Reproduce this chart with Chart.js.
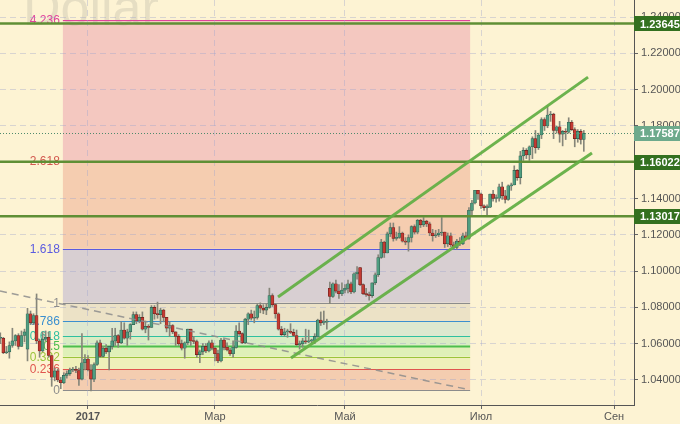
<!DOCTYPE html>
<html>
<head>
<meta charset="utf-8">
<script src="https://cdn.jsdelivr.net/npm/chart.js@4.4.0/dist/chart.umd.min.js"></script>
<style>
  html, body { margin: 0; padding: 0; background: #fdf3d3; }
  canvas { display: block; }
</style>
</head>
<body>
<canvas id="chart" width="680" height="424"></canvas>
<script>
// daily candles, first one sits at index -29 (index 0 = first trading day of 2017)
var FIRST_INDEX = -29;

var open = [
  1.0630,1.0630,1.0550,1.0555,1.0590,1.0615,1.0645,1.0585,1.0645,1.0570,
  1.0765,1.0715,1.0755,1.0615,1.0560,1.0625,1.0635,1.0535,1.0415,1.0450,
  1.0400,1.0385,1.0425,1.0435,1.0455,1.0458,1.0452,1.0405,1.0495,1.0515,
  1.0455,1.0405,1.0485,1.0605,1.0530,1.0575,1.0555,1.0585,1.0615,1.0645,
  1.0605,1.0675,1.0630,1.0665,1.0705,1.0760,1.0725,1.0745,1.0680,1.0695,
  1.0690,1.0800,1.0765,1.0760,1.0785,1.0745,1.0685,1.0700,1.0665,1.0640,
  1.0600,1.0575,1.0605,1.0680,1.0615,1.0612,1.0540,1.0555,1.0585,1.0560,
  1.0605,1.0575,1.0545,1.0505,1.0620,1.0580,1.0565,1.0545,1.0580,1.0670,
  1.0655,1.0605,1.0735,1.0765,1.0740,1.0745,1.0810,1.0795,1.0785,1.0800,
  1.0865,1.0815,1.0765,1.0680,1.0650,1.0665,1.0668,1.0662,1.0645,1.0595,
  1.0600,1.0615,1.0610,1.0615,1.0618,1.0640,1.0730,1.0715,1.0718,1.0905,
  1.0860,1.0930,1.0890,1.0875,1.0895,1.0905,1.0930,1.0885,1.0985,1.1020,
  1.0925,1.0875,1.0870,1.0865,1.0935,1.0980,1.1075,1.1160,1.1100,1.1205,
  1.1240,1.1180,1.1185,1.1210,1.1165,1.1160,1.1185,1.1245,1.1215,1.1280,
  1.1255,1.1275,1.1260,1.1210,1.1195,1.1200,1.1210,1.1215,1.1150,1.1195,
  1.1145,1.1130,1.1165,1.1150,1.1195,1.1180,1.1335,1.1375,1.1445,1.1425,
  1.1360,1.1350,1.1352,1.1425,1.1400,1.1402,1.1465,1.1415,1.1395,1.1470,
  1.1475,1.1555,1.1515,1.1635,1.1665,1.1640,1.1685,1.1730,1.1680,1.1750,
  1.1835,1.1800,1.1860,1.1865,1.1775,1.1795,1.1755,1.1770,1.1765,1.1820,
  1.1780,1.1730,1.1770,1.1725
];
var high = [
  1.0660,1.0635,1.0585,1.0610,1.0685,1.0650,1.0655,1.0670,1.0680,1.0795,
  1.0780,1.0765,1.0874,1.0625,1.0665,1.0670,1.0665,1.0535,1.0465,1.0460,
  1.0415,1.0440,1.0450,1.0465,1.0470,1.0475,1.0465,1.0655,1.0540,1.0535,
  1.0485,1.0495,1.0615,1.0620,1.0585,1.0595,1.0580,1.0685,1.0685,1.0650,
  1.0720,1.0715,1.0680,1.0710,1.0775,1.0775,1.0760,1.0775,1.0725,1.0705,
  1.0810,1.0810,1.0829,1.0795,1.0790,1.0745,1.0720,1.0705,1.0665,1.0650,
  1.0620,1.0610,1.0680,1.0680,1.0640,1.0620,1.0565,1.0600,1.0600,1.0615,
  1.0620,1.0580,1.0565,1.0630,1.0625,1.0605,1.0575,1.0615,1.0700,1.0715,
  1.0660,1.0740,1.0770,1.0785,1.0780,1.0820,1.0825,1.0815,1.0820,1.0906,
  1.0875,1.0820,1.0770,1.0695,1.0685,1.0680,1.0710,1.0680,1.0675,1.0615,
  1.0630,1.0680,1.0675,1.0625,1.0655,1.0735,1.0775,1.0780,1.0735,1.0940,
  1.0935,1.0950,1.0925,1.0935,1.0925,1.0950,1.0940,1.0990,1.1025,1.1020,
  1.0930,1.0905,1.0885,1.0935,1.0990,1.1090,1.1175,1.1165,1.1215,1.1265,
  1.1265,1.1215,1.1245,1.1215,1.1185,1.1200,1.1250,1.1255,1.1285,1.1285,
  1.1295,1.1280,1.1270,1.1230,1.1225,1.1230,1.1295,1.1215,1.1210,1.1210,
  1.1160,1.1175,1.1185,1.1210,1.1215,1.1350,1.1390,1.1445,1.1445,1.1430,
  1.1365,1.1365,1.1425,1.1445,1.1420,1.1480,1.1490,1.1445,1.1475,1.1485,
  1.1580,1.1560,1.1660,1.1680,1.1675,1.1690,1.1740,1.1775,1.1760,1.1845,
  1.1845,1.1910,1.1880,1.1870,1.1800,1.1825,1.1775,1.1785,1.1845,1.1830,
  1.1790,1.1780,1.1780,1.1775
];
var low = [
  1.0600,1.0545,1.0545,1.0520,1.0580,1.0590,1.0570,1.0585,1.0610,1.0505,
  1.0705,1.0705,1.0600,1.0525,1.0555,1.0615,1.0525,1.0365,1.0395,1.0390,
  1.0352,1.0380,1.0410,1.0425,1.0445,1.0440,1.0370,1.0400,1.0455,1.0450,
  1.0340,1.0390,1.0480,1.0525,1.0525,1.0545,1.0455,1.0570,1.0590,1.0580,
  1.0600,1.0625,1.0590,1.0625,1.0705,1.0710,1.0715,1.0675,1.0660,1.0620,
  1.0690,1.0735,1.0740,1.0710,1.0720,1.0665,1.0640,1.0655,1.0590,1.0590,
  1.0565,1.0520,1.0595,1.0590,1.0600,1.0525,1.0495,1.0540,1.0550,1.0555,
  1.0565,1.0505,1.0495,1.0500,1.0565,1.0560,1.0535,1.0525,1.0575,1.0645,
  1.0600,1.0600,1.0705,1.0730,1.0715,1.0735,1.0770,1.0765,1.0760,1.0795,
  1.0805,1.0740,1.0675,1.0645,1.0640,1.0635,1.0655,1.0640,1.0590,1.0570,
  1.0580,1.0600,1.0605,1.0605,1.0600,1.0635,1.0700,1.0705,1.0680,1.0820,
  1.0855,1.0880,1.0850,1.0865,1.0880,1.0880,1.0875,1.0880,1.0955,1.0920,
  1.0870,1.0860,1.0840,1.0855,1.0925,1.0970,1.1070,1.1075,1.1100,1.1190,
  1.1165,1.1170,1.1180,1.1160,1.1145,1.1110,1.1160,1.1205,1.1205,1.1240,
  1.1245,1.1245,1.1195,1.1165,1.1185,1.1190,1.1195,1.1130,1.1135,1.1135,
  1.1120,1.1120,1.1140,1.1145,1.1175,1.1175,1.1310,1.1370,1.1395,1.1345,
  1.1335,1.1310,1.1350,1.1385,1.1380,1.1385,1.1395,1.1375,1.1390,1.1445,
  1.1475,1.1500,1.1480,1.1610,1.1620,1.1610,1.1620,1.1650,1.1670,1.1730,
  1.1775,1.1790,1.1825,1.1730,1.1760,1.1710,1.1690,1.1725,1.1760,1.1775,
  1.1685,1.1710,1.1700,1.1660
];
var close = [
  1.0630,1.0550,1.0555,1.0590,1.0615,1.0645,1.0585,1.0645,1.0665,1.0765,
  1.0715,1.0755,1.0615,1.0560,1.0625,1.0635,1.0535,1.0415,1.0450,1.0400,
  1.0385,1.0425,1.0435,1.0455,1.0458,1.0452,1.0405,1.0495,1.0515,1.0455,
  1.0405,1.0485,1.0605,1.0530,1.0575,1.0555,1.0585,1.0615,1.0645,1.0605,
  1.0675,1.0630,1.0665,1.0705,1.0760,1.0725,1.0745,1.0680,1.0695,1.0690,
  1.0800,1.0765,1.0760,1.0785,1.0745,1.0685,1.0700,1.0665,1.0640,1.0600,
  1.0575,1.0605,1.0680,1.0615,1.0612,1.0540,1.0555,1.0585,1.0560,1.0605,
  1.0575,1.0545,1.0505,1.0620,1.0580,1.0565,1.0545,1.0580,1.0670,1.0655,
  1.0605,1.0735,1.0765,1.0740,1.0745,1.0810,1.0795,1.0785,1.0800,1.0865,
  1.0815,1.0765,1.0680,1.0650,1.0665,1.0668,1.0662,1.0645,1.0595,1.0600,
  1.0615,1.0610,1.0615,1.0618,1.0640,1.0730,1.0715,1.0718,1.0725,1.0860,
  1.0930,1.0890,1.0875,1.0895,1.0905,1.0930,1.0885,1.0985,1.0995,1.0925,
  1.0875,1.0870,1.0865,1.0935,1.0980,1.1075,1.1160,1.1100,1.1205,1.1240,
  1.1180,1.1185,1.1210,1.1165,1.1160,1.1185,1.1245,1.1215,1.1280,1.1255,
  1.1275,1.1260,1.1210,1.1195,1.1200,1.1210,1.1215,1.1150,1.1195,1.1145,
  1.1130,1.1165,1.1150,1.1195,1.1180,1.1335,1.1375,1.1445,1.1425,1.1360,
  1.1350,1.1352,1.1425,1.1400,1.1402,1.1465,1.1415,1.1395,1.1470,1.1475,
  1.1555,1.1515,1.1635,1.1665,1.1640,1.1685,1.1730,1.1680,1.1750,1.1835,
  1.1800,1.1860,1.1865,1.1775,1.1795,1.1755,1.1770,1.1765,1.1820,1.1780,
  1.1730,1.1770,1.1725,1.1759
];

// axis ticks
var monthTicks = [0, 42, 85, 130, 174];
var monthNames = ["2017", "Мар", "Май", "Июл", "Сен"];
var priceTicks = [1.04, 1.06, 1.08, 1.10, 1.12, 1.14, 1.16, 1.18, 1.20, 1.22, 1.24];

// fibonacci tool: drawn from the Dec/Jan low to the Feb high
var fibLow = 1.0345, fibHigh = 1.0826;
var fibFrom = -8.3, fibTo = 126.4;
var fibRatios = [0, 0.236, 0.382, 0.5, 0.618, 0.786, 1, 1.618, 2.618, 4.236];
var fibNames = ["0", "0.236", "0.382", "0.5", "0.618", "0.786", "1", "1.618", "2.618", "4.236"];

// horizontal levels and last price
var levels = [1.23645, 1.16022, 1.13017];
var lastPrice = 1.17587;

// hand drawn lines [index, price]
var channelTop = [[62.85, 1.0857], [165.4, 1.2069]];
var channelBottom = [[67.15, 1.0521], [166.7, 1.1651]];
var oldTrend = [[-29.1, 1.0890], [125, 1.0350]];

var fibLineColors = ["#8c8c8c", "#e0554e", "#9bc43b", "#4cbf4c", "#2ec0a0", "#3b8fcf", "#8c8c8c", "#5b5be0", "#d2584e", "#e0449c"];
var fibZoneColors = ["#f4cdb0", "#eff0ba", "#dff0b8", "#d8ecc4", "#dde8cf", "#ece2c6", "#d8cfd2", "#f5cdb0", "#f4c8c0"];

var FONT = "Liberation Sans";

var xs = close.map(function(c, i) { return i + FIRST_INDEX; });
var isUp = close.map(function(c, i) { return c >= open[i]; });

var decor = {
    id: "decor",
    beforeDraw: function(chart) {
        var ctx = chart.ctx, a = chart.chartArea;
        var sx = chart.scales.x, sy = chart.scales.y;
        ctx.save();
        ctx.fillStyle = "#fdf3d3";
        ctx.fillRect(0, 0, chart.width, chart.height);

        var x1 = sx.getPixelForValue(fibFrom), x2 = sx.getPixelForValue(fibTo);
        var lv = fibRatios.map(function(r) { return fibLow + (fibHigh - fibLow) * r; });
        for (var i = 0; i < lv.length - 1; i++) {
            var ya = sy.getPixelForValue(lv[i]), yb = sy.getPixelForValue(lv[i + 1]);
            ctx.fillStyle = fibZoneColors[i];
            ctx.fillRect(x1, yb, x2 - x1, ya - yb);
        }
        // watermark
        ctx.font = "52px '" + FONT + "'";
        ctx.fillStyle = "rgba(150,150,140,0.22)";
        ctx.textBaseline = "alphabetic";
        ctx.fillText("Dollar", 23, 25);

        for (var j = 0; j < lv.length; j++) {
            var y = Math.round(sy.getPixelForValue(lv[j])) + 0.5;
            ctx.strokeStyle = fibLineColors[j];
            ctx.lineWidth = fibRatios[j] === 0.5 ? 2 : 1.2;
            ctx.beginPath();
            ctx.moveTo(x1, y);
            ctx.lineTo(x2, y);
            ctx.stroke();
            ctx.fillStyle = fibLineColors[j];
            ctx.font = "12px '" + FONT + "'";
            ctx.textAlign = "right";
            ctx.textBaseline = "middle";
            ctx.fillText(fibNames[j], x1 - 3, y);
        }
        ctx.restore();
    },
    afterDatasetsDraw: function(chart) {
        var ctx = chart.ctx, a = chart.chartArea;
        var sx = chart.scales.x, sy = chart.scales.y;
        ctx.save();
        ctx.beginPath();
        ctx.rect(a.left, a.top, a.right - a.left, a.bottom - a.top);
        ctx.clip();

        function seg(p, color, width, dash) {
            ctx.strokeStyle = color;
            ctx.lineWidth = width;
            ctx.setLineDash(dash || []);
            ctx.beginPath();
            ctx.moveTo(sx.getPixelForValue(p[0][0]), sy.getPixelForValue(p[0][1]));
            ctx.lineTo(sx.getPixelForValue(p[1][0]), sy.getPixelForValue(p[1][1]));
            ctx.stroke();
        }
        seg(oldTrend, "rgba(140,140,140,0.85)", 1.5, [7, 5]);

        // last price dotted line
        var yl = Math.round(sy.getPixelForValue(lastPrice)) + 0.5;
        ctx.strokeStyle = "#4f8a6c";
        ctx.lineWidth = 1;
        ctx.setLineDash([1, 2]);
        ctx.beginPath();
        ctx.moveTo(a.left, yl);
        ctx.lineTo(a.right, yl);
        ctx.stroke();
        ctx.setLineDash([]);

        levels.forEach(function(v) {
            var y = sy.getPixelForValue(v);
            ctx.strokeStyle = "#5f8f35";
            ctx.lineWidth = 2.5;
            ctx.beginPath();
            ctx.moveTo(a.left, y);
            ctx.lineTo(a.right, y);
            ctx.stroke();
        });

        seg(channelTop, "rgba(100,175,70,0.95)", 3);
        seg(channelBottom, "rgba(100,175,70,0.95)", 3);
        ctx.restore();
    },
    afterDraw: function(chart) {
        var ctx = chart.ctx, a = chart.chartArea, sy = chart.scales.y;
        ctx.save();
        ctx.font = "bold 11px '" + FONT + "'";
        ctx.textAlign = "left";
        ctx.textBaseline = "middle";
        function tag(v, bg) {
            var y = sy.getPixelForValue(v);
            ctx.fillStyle = bg;
            ctx.fillRect(a.right, Math.round(y) - 7, chart.width - a.right, 15);
            ctx.fillStyle = "#ffffff";
            ctx.fillText(v.toFixed(5), a.right + 6, y + 1);
        }
        levels.forEach(function(v) { tag(v, "#33701f"); });
        tag(lastPrice, "#6daa8c");
        ctx.restore();
    }
};

var chart = new Chart(document.getElementById("chart"), {
    type: "bar",
    data: {
        datasets: [
            {
                label: "wick",
                data: xs.map(function(x, i) { return { x: x, y: [low[i], high[i]] }; }),
                backgroundColor: "#86867a",
                barThickness: 1,
                grouped: false,
                order: 2
            },
            {
                label: "body",
                data: xs.map(function(x, i) { return { x: x, y: [open[i], close[i]] }; }),
                backgroundColor: isUp.map(function(u) { return u ? "#4f9d80" : "#c43a32"; }),
                borderColor: isUp.map(function(u) { return u ? "#2f5f4f" : "#6a1e1a"; }),
                borderWidth: 0.6,
                borderSkipped: false,
                barThickness: 3,
                minBarLength: 1,
                grouped: false,
                order: 1
            }
        ]
    },
    options: {
        responsive: false,
        animation: false,
        devicePixelRatio: 1,
        layout: { padding: 0 },
        plugins: { legend: { display: false }, tooltip: { enabled: false } },
        scales: {
            x: {
                type: "linear",
                min: -29.1,
                max: 180.6,
                offset: false,
                afterBuildTicks: function(s) {
                    s.ticks = monthTicks.map(function(v) { return { value: v }; });
                },
                afterFit: function(s) {
                    s.height = 19;
                    s.paddingLeft = 0;
                    s.paddingRight = 0;
                },
                ticks: {
                    autoSkip: false,
                    maxRotation: 0,
                    padding: 1,
                    color: "#555",
                    font: function(c) {
                        return { family: FONT, size: 11, weight: (c.tick && c.tick.value === 0) ? "bold" : "normal" };
                    },
                    callback: function(v) {
                        var k = monthTicks.indexOf(v);
                        return k >= 0 ? monthNames[k] : "";
                    }
                },
                grid: { color: "rgba(160,165,205,0.4)", tickColor: "#666", tickLength: 4, offset: false },
                border: { display: true, color: "#555", width: 1, dash: [6, 4] }
            },
            y: {
                position: "right",
                min: 1.0262,
                max: 1.2494,
                afterBuildTicks: function(s) {
                    s.ticks = priceTicks.map(function(v) { return { value: v }; });
                },
                afterFit: function(s) {
                    s.width = 46;
                    s.paddingTop = 0;
                    s.paddingBottom = 0;
                },
                ticks: {
                    padding: 3,
                    color: "#555",
                    font: { family: FONT, size: 11 },
                    callback: function(v) { return Number(v).toFixed(5); }
                },
                grid: { color: "rgba(160,165,205,0.4)", tickColor: "#666", tickLength: 4 },
                border: { display: true, color: "#555", width: 1, dash: [6, 4] }
            }
        }
    },
    plugins: [decor]
});
</script>
</body>
</html>
